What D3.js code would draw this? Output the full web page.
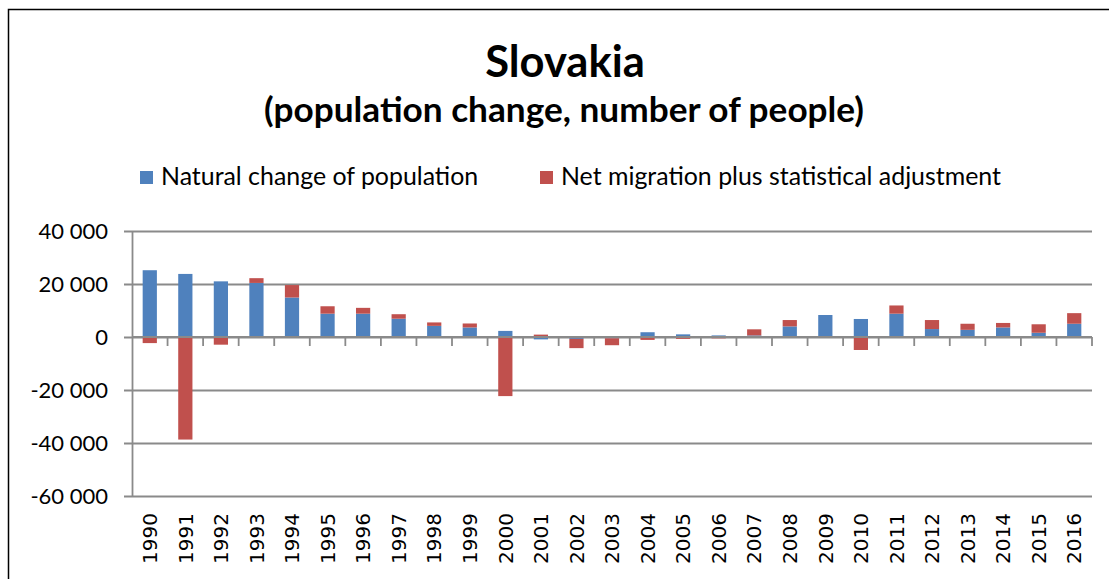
<!DOCTYPE html>
<html>
<head>
<meta charset="utf-8">
<script src="https://cdn.jsdelivr.net/npm/d3@7"></script>
<style>
  html, body { margin: 0; padding: 0; background: #fff; }
  svg { display: block; }
</style>
</head>
<body>
<svg width="1109" height="579"></svg>
<script>
// values
var years = ['1990','1991','1992','1993','1994','1995','1996','1997','1998','1999',
             '2000','2001','2002','2003','2004','2005','2006','2007','2008','2009',
             '2010','2011','2012','2013','2014','2015','2016'];
var natural = [25200, 23800, 21000, 20400, 14900, 8800, 8800, 6900, 4200, 3600,
               2300, -900, -700, -500, 1800, 1000, 600, 600, 4000, 8300,
               6800, 8800, 3000, 2700, 3600, 1600, 5000];
var migration = [-2300, -38700, -2900, 1800, 4700, 2800, 2200, 1700, 1300, 1500,
                 -22300, 900, -3500, -2600, -1100, -700, -500, 2300, 2400, 0,
                 -4900, 3100, 3400, 2300, 1700, 3200, 4000];
var seriesNames = ['Natural change of population', 'Net migration plus statistical adjustment'];
var yTicks = [40000, 20000, 0, -20000, -40000, -60000];

var colors = ['#4f81bd', '#c0504d'];
var svg = d3.select('svg');

// frame (only left and top edges are visible)
svg.append('path')
  .attr('d', 'M8.5,579 V9.5 H1109')
  .attr('fill', 'none')
  .attr('stroke', '#000')
  .attr('stroke-width', 1.5);

var x = d3.scaleBand()
  .domain(years)
  .range([132, 1092])
  .paddingInner(0.6)
  .paddingOuter(0.3);

var y = d3.scaleLinear()
  .domain([-60000, 40000])
  .range([496, 231]);

var rows = years.map(function(yr, i) {
  return {year: yr, nat: natural[i], mig: migration[i]};
});
var stack = d3.stack()
  .keys(['nat', 'mig'])
  .offset(d3.stackOffsetDiverging);
var layers = stack(rows);

// gridlines + y axis
var yAxis = d3.axisLeft(y)
  .tickValues(yTicks)
  .tickSize(-(1092 - 132))
  .tickFormat(function(d) { return d3.format(',')(d).replace(/,/g, ' ').replace('\u2212', '-'); });

var gy = svg.append('g')
  .attr('transform', 'translate(132,0)')
  .call(yAxis);
gy.select('.domain').remove();
gy.selectAll('.tick line')
  .attr('x1', -8)
  .attr('stroke', '#8a8a8a')
  .attr('stroke-width', 1.8);
gy.selectAll('.tick text')
  .attr('x', -24)
  .attr('dy', '0.36em')
  .attr('fill', '#000')
  .style('font-family', 'Lato, sans-serif')
  .style('font-size', '22px');

svg.append('line')
  .attr('x1', 132.5).attr('x2', 132.5)
  .attr('y1', y(40000)).attr('y2', y(-60000))
  .attr('stroke', '#8a8a8a')
  .attr('stroke-width', 1.8);

// bars
svg.append('g')
  .selectAll('g')
  .data(layers)
  .join('g')
  .attr('fill', function(d, i) { return colors[i]; })
  .selectAll('rect')
  .data(function(d) { return d; })
  .join('rect')
  .attr('x', function(d) { return x(d.data.year); })
  .attr('width', x.bandwidth())
  .attr('y', function(d) { return y(Math.max(d[0], d[1])); })
  .attr('height', function(d) { return Math.abs(y(d[0]) - y(d[1])); });

// x axis line at zero with ticks between categories
var zeroY = y(0);
svg.append('line')
  .attr('x1', 132).attr('x2', 1092)
  .attr('y1', zeroY).attr('y2', zeroY)
  .attr('stroke', '#8a8a8a')
  .attr('stroke-width', 1.8);

svg.append('g')
  .selectAll('line')
  .data(years)
  .join('line')
  .attr('x1', function(d) { return x(d) + x.bandwidth() / 2 + x.step() / 2; })
  .attr('x2', function(d) { return x(d) + x.bandwidth() / 2 + x.step() / 2; })
  .attr('y1', zeroY)
  .attr('y2', zeroY + 9)
  .attr('stroke', '#8a8a8a')
  .attr('stroke-width', 1.8);

// year labels, rotated
svg.append('g')
  .selectAll('text')
  .data(years)
  .join('text')
  .attr('transform', function(d) {
    return 'translate(' + (x(d) + x.bandwidth() / 2) + ',513) rotate(-90)';
  })
  .attr('text-anchor', 'end')
  .attr('dy', '0.36em')
  .style('font-family', '"DejaVu Sans", sans-serif')
  .style('font-size', '20px')
  .text(function(d) { return d; });

// title
svg.append('text')
  .attr('x', 565).attr('y', 77)
  .attr('text-anchor', 'middle')
  .style('font-family', 'Lato, sans-serif')
  .style('font-weight', 'bold')
  .style('font-size', '43.5px')
  .text('Slovakia');

svg.append('text')
  .attr('x', 564).attr('y', 122)
  .attr('text-anchor', 'middle')
  .style('font-family', 'Lato, sans-serif')
  .style('font-weight', 'bold')
  .style('font-size', '35.2px')
  .text('(population change, number of people)');

// legend
var legendX = [140, 540];
var legend = svg.append('g')
  .selectAll('g')
  .data(seriesNames)
  .join('g')
  .attr('transform', function(d, i) { return 'translate(' + legendX[i] + ',171)'; });
legend.append('rect')
  .attr('width', 13).attr('height', 13)
  .attr('fill', function(d, i) { return colors[i]; });
legend.append('text')
  .attr('x', 21).attr('y', 14)
  .style('font-family', 'Lato, sans-serif')
  .style('font-size', '24.9px')
  .text(function(d) { return d; });
</script>
</body>
</html>
